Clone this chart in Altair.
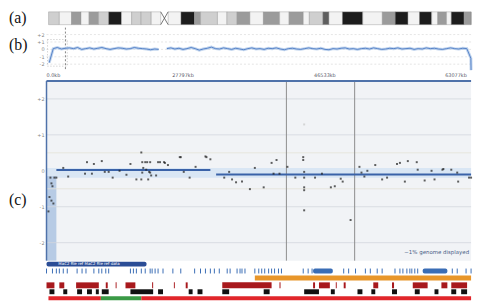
import altair as alt
import pandas as pd

W = 430
XDOM = [0, 62.83]

# ---------------- (a) ideogram ----------------
band_start = [0.3, 1.9, 3.7, 5.1, 6.3, 7.7, 9.2, 11.1, 12.6, 14.0, 15.5,
              18.0, 19.9, 21.9, 22.8, 25.3, 26.7, 28.2, 30.1, 32.1, 34.5, 35.9, 38.0,
              38.9, 40.9, 41.8, 43.8, 46.8, 49.7, 51.6, 53.5, 55.2, 57.0, 57.9, 59.2,
              59.9, 61.8, 63.3]
band_end = [1.9, 3.7, 5.1, 6.3, 7.7, 9.2, 11.1, 12.6, 14.0, 15.5, 16.9,
            19.9, 21.9, 22.8, 25.3, 26.7, 28.2, 30.1, 32.1, 34.5, 35.9, 38.0, 38.9,
            40.9, 41.8, 43.8, 46.8, 49.7, 51.6, 53.5, 55.2, 57.0, 57.9, 59.2, 59.9,
            61.8, 63.3, 64.0]
band_stain = ["g25", "gneg", "g50", "gneg", "g50", "g25", "g100", "gneg", "g25", "g25", "gneg",
              "gneg", "g100", "g50", "g25", "gneg", "g25", "g50", "gneg", "g50", "gneg", "g50", "gneg",
              "g25", "g75", "gneg", "g100", "gneg", "g50", "g100", "gneg", "g100", "gneg", "g50", "gneg",
              "g100", "g50", "gneg"]
cen_start = [16.9]
cen_end = [18.0]

# ---------------- (b) whole-chromosome trace ----------------
b_left_start, b_right_start, b_step = 0.4, 17.8, 0.6
b_left_vals = [-1.8, 0.1, 0.25, 0.05, 0.15, 0.2, 0.1, 0.25, 0.0, 0.1, 0.2, 0.05, 0.15, 0.25,
               0.1, 0.0, 0.1, 0.2, 0.15, 0.05, 0.1, 0.25, 0.15, 0.1, 0.05, -0.05, 0.05, 0.0]
b_right_vals = [0.1, 0.2, 0.05, 0.15, 0.0, 0.1, 0.25, 0.1, -0.1, 0.05, 0.15, 0.3, 0.1, 0.05,
                0.2, 0.1, 0.0, 0.15, 0.05, -0.05, 0.1, 0.2, 0.05, 0.1, 0.0, 0.15, 0.1, 0.2,
                0.05, -0.05, 0.1, 0.15, 0.05, 0.0, 0.1, 0.2, 0.1, 0.05, 0.15, 0.0, -0.05, 0.1,
                0.05, 0.15, 0.2, 0.05, 0.1, 0.0, 0.1, 0.15, 0.05, 0.2, 0.1, 0.0, 0.05, 0.15,
                0.1, 0.2, 0.05, 0.1, 0.15, 0.0, 0.1, 0.05, 0.2, 0.1, 0.15, 0.05, 0.0, 0.1,
                0.2, 0.1, 0.05, 0.15, 0.1, -1.2, -2.8]
b_grid_vals = [2, 1, 0, -1, -2]
b_grid_text = ["+2", "+1", "0", "-1", "-2"]
view_line = [2.8]
view_box = {"x0": [0.15], "x1": [3.07], "y0": [1.33], "y1": [-2.27]}
tick_pos = [0.0, 20.2, 41.2, 60.6]
tick_text = ["0.0kb", "27797kb", "46533kb", "63077kb"]
tick_align = ["left", "center", "center", "center"]

# ---------------- (c) zoomed log-ratio panel ----------------
c_grid_major = [2, 1, -1, -2]
c_grid_minor = [0.5, -0.5]
c_grid_text_v = [2, 1, 0, -1, -2]
c_grid_text = ["+2", "+1", "0", "-1", "-2"]
c_vlines = [35.5, 45.6]
seg_start = [1.46, 25.1]
seg_end = [24.25, 64.0]
seg_val = [0.02, -0.1]
band_lo, band_hi = [-0.19], [0.08]
shade_x0, shade_x1, shade_lo, shade_hi = [0.0], [1.46], [-2.5], [-0.15]

dot_x = [5.99, 7.01, 8.18, 2.48, 3.21, 5.70, 6.72, 8.62, 9.20, 9.79, 10.81, 11.83, 12.42,
         13.30, 14.03, 14.17, 14.61, 14.90, 15.34, 14.32, 14.76, 15.19, 15.34, 14.17, 15.49,
         16.22, 15.05, 16.80, 17.39, 17.97, 19.87, 20.31, 21.18, 22.06, 23.52, 24.25, 14.03,
         19.72, 23.67, 16.51, 17.53,
         0.58, 1.17, 0.73, 0.88, 0.44, 0.73, 1.02, 0.29, 1.46,
         27.03, 26.30, 27.46, 28.05, 28.93, 30.10, 32.14, 30.83, 33.31, 34.04, 33.60, 34.48,
         35.65, 36.82, 37.99, 37.99, 38.13, 38.13, 38.13, 38.13, 38.13, 39.74, 40.76, 42.08,
         42.66, 43.54, 43.83, 45.00, 46.31, 46.61, 47.48, 47.04, 48.65, 49.67, 50.40, 51.87,
         52.30, 53.47, 54.79, 53.03, 54.93, 55.96, 56.98, 57.42, 58.59, 58.73, 59.90, 60.78,
         60.92, 62.53, 63.70]
dot_y = [0.24, 0.19, 0.27, 0.08, -0.16, -0.08, -0.08, -0.03, -0.03, -0.19, 0.0, -0.11, 0.19,
         -0.24, -0.24, 0.24, 0.24, 0.24, 0.24, 0.08, 0.03, -0.03, -0.05, -0.05, -0.13,
         -0.13, -0.24, 0.24, 0.24, 0.16, 0.38, -0.03, -0.19, 0.11, 0.40, 0.32, 0.51,
         0.38, 0.38, 0.24, 0.22,
         -0.19, -0.19, -0.35, -0.43, -0.73, -0.83, -0.91, -1.13, -0.19,
         -0.03, -0.19, -0.24, -0.32, -0.30, -0.51, -0.46, 0.08, 0.22, 0.30, -0.08, -0.08,
         0.11, -0.19, 0.38, 0.30, -0.03, -0.19, -0.46, -0.54, -1.10, -0.19, -0.08, -0.46,
         -0.43, -0.22, -0.30, -1.37, 0.11, -0.05, 0.0, -0.16, 0.16, -0.24, -0.19, 0.19,
         0.22, 0.27, 0.24, -0.30, 0.03, -0.27, 0.0, -0.24, 0.03, 0.05, 0.03, -0.05,
         -0.30, -0.19, -0.19]
faint_x, faint_y = [38.13], [1.29]

# ---------------- tracks ----------------
blue_bar = {"s": [0.0], "e": [14.8], "t": ["MaC2 file ref MaC2 file ref data"]}
gene_ticks = [0.0, 0.88, 1.46, 1.90, 2.48, 3.07, 4.53, 5.26, 5.84, 7.01, 7.74, 8.18, 8.77,
              9.20, 12.42, 12.86, 13.30, 14.03, 14.61, 15.34, 15.63, 16.07, 16.51, 17.24,
              18.70, 19.87, 21.92, 22.79, 23.52, 24.25, 24.84, 25.57, 26.74, 27.17, 28.20,
              28.64, 28.93, 29.37, 30.83, 31.41, 31.85, 32.29, 32.87, 33.31, 33.75, 34.33,
              34.77, 37.99, 38.72, 39.30, 43.98, 44.71, 45.73, 47.19, 47.92, 48.94, 49.67,
              51.57, 52.30, 52.74, 53.33, 53.77, 54.06, 54.50, 54.93, 60.05, 60.78, 62.09,
              63.26]
gene_box_s = [39.45, 55.67]
gene_box_e = [42.37, 59.32]
orange_s, orange_e = [30.83], [64.0]
dred_s = [0.0, 1.90, 4.38, 8.77, 10.23, 11.69, 15.63, 18.85, 20.60, 26.01, 34.48, 39.45,
          40.32, 42.81, 43.98, 48.36, 51.13, 54.20, 58.44, 59.90, 62.97]
dred_e = [1.17, 2.63, 7.74, 9.06, 10.37, 13.15, 15.78, 18.99, 20.89, 33.31, 34.63, 39.74,
          41.93, 42.95, 44.27, 49.09, 51.43, 56.40, 59.32, 62.24, 63.99]
black_s = [0.44, 2.48, 4.53, 5.99, 7.30, 8.18, 12.42, 16.51, 21.04, 22.35, 26.01, 32.14,
           38.13, 42.08, 46.02, 48.07, 51.13, 54.50, 57.42, 59.90, 61.36, 63.26]
black_e = [1.17, 3.07, 5.26, 6.72, 7.74, 9.20, 15.78, 17.24, 21.62, 23.08, 27.03, 33.02,
           40.32, 42.66, 46.75, 48.65, 51.87, 55.23, 58.00, 60.63, 62.24, 63.99]
cnv_s = [0.29, 8.04, 14.03]
cnv_e = [8.04, 14.03, 64.0]
cnv_c = ["loss", "gain", "loss"]

SERIF = "Liberation Serif"
SANS = "DejaVu Sans"


def xs():
    return alt.Scale(domain=XDOM, nice=False, zero=False, clamp=True)


def label(txt, y):
    return alt.Chart(pd.DataFrame({"t": [txt]})).mark_text(
        align="left", baseline="middle", font=SERIF, fontSize=16, color="#111"
    ).encode(text="t:N", x=alt.value(-38), y=alt.value(y))


# ---------- panel A ----------
ideo = pd.DataFrame({"s": band_start, "e": band_end, "stain": band_stain})
a_rect = alt.Chart(ideo).mark_rect(stroke="#8f8f8f", strokeWidth=0.4).encode(
    x=alt.X("s:Q", scale=xs(), axis=None), x2="e:Q",
    y=alt.value(2), y2=alt.value(15),
    color=alt.Color("stain:N", legend=None, scale=alt.Scale(
        domain=["gneg", "g25", "g50", "g75", "g100"],
        range=["#f3f3f3", "#cfcfcf", "#9b9b9b", "#5e5e5e", "#1c1c1c"])))
cen = pd.DataFrame({"s": cen_start, "e": cen_end})
a_cen1 = alt.Chart(cen).mark_rule(color="#555", strokeWidth=0.8).encode(
    x=alt.X("s:Q", scale=xs(), axis=None), x2="e:Q", y=alt.value(2), y2=alt.value(15))
a_cen2 = alt.Chart(cen).mark_rule(color="#555", strokeWidth=0.8).encode(
    x=alt.X("s:Q", scale=xs(), axis=None), x2="e:Q", y=alt.value(15), y2=alt.value(2))
panel_a = alt.layer(a_rect, a_cen1, a_cen2, label("(a)", 8)).properties(width=W, height=17)

# ---------- panel B ----------
ysb = alt.Scale(domain=[-4.13, 3.07], nice=False, zero=False)
trace = pd.DataFrame({
    "pos": [round(b_left_start + b_step * i, 2) for i in range(len(b_left_vals))] +
           [round(b_right_start + b_step * i, 2) for i in range(len(b_right_vals))],
    "val": b_left_vals + b_right_vals,
    "arm": ["p"] * len(b_left_vals) + ["q"] * len(b_right_vals)})
bg = pd.DataFrame({"v": b_grid_vals, "t": b_grid_text})
b_grid = alt.Chart(bg).mark_rule(color="#d2d2d2", strokeDash=[2, 2], strokeWidth=0.6).encode(
    y=alt.Y("v:Q", scale=ysb, axis=None), x=alt.value(0), x2=alt.value(W))
b_glab = alt.Chart(bg).mark_text(align="right", baseline="middle", fontSize=5, color="#888", font=SANS).encode(
    y=alt.Y("v:Q", scale=ysb, axis=None), x=alt.value(-2), text="t:N")
b_wide = alt.Chart(trace).mark_line(color="#b3cbea", strokeWidth=3, opacity=0.8).encode(
    x=alt.X("pos:Q", scale=xs(), axis=None), y=alt.Y("val:Q", scale=ysb, axis=None), detail="arm:N")
b_line = alt.Chart(trace).mark_line(color="#3b6fbe", strokeWidth=0.8).encode(
    x=alt.X("pos:Q", scale=xs(), axis=None), y=alt.Y("val:Q", scale=ysb, axis=None), detail="arm:N")
b_vl = alt.Chart(pd.DataFrame({"x": view_line})).mark_rule(color="#666", strokeDash=[2, 2], strokeWidth=0.8).encode(
    x=alt.X("x:Q", scale=xs(), axis=None), y=alt.value(1), y2=alt.value(44))
b_box = alt.Chart(pd.DataFrame(view_box)).mark_rect(fill=None, stroke="#999", strokeDash=[1, 2], strokeWidth=0.6).encode(
    x=alt.X("x0:Q", scale=xs(), axis=None), x2="x1:Q",
    y=alt.Y("y0:Q", scale=ysb, axis=None), y2="y1:Q")
ticks = pd.DataFrame({"p": tick_pos, "t": tick_text, "a": tick_align})
b_ticks_l = alt.Chart(ticks[ticks.a == "left"]).mark_text(align="left", baseline="middle", fontSize=5, color="#556", font=SANS).encode(
    x=alt.X("p:Q", scale=xs(), axis=None), y=alt.value(49), text="t:N")
b_ticks_c = alt.Chart(ticks[ticks.a == "center"]).mark_text(align="center", baseline="middle", fontSize=5, color="#556", font=SANS).encode(
    x=alt.X("p:Q", scale=xs(), axis=None), y=alt.value(49), text="t:N")
panel_b = alt.layer(b_grid, b_glab, b_box, b_vl, b_wide, b_line, b_ticks_l, b_ticks_c,
                    label("(b)", 19)).properties(width=W, height=54)

# ---------- panel C ----------
HC = 182
ysc = alt.Scale(domain=[-2.5, 2.5], nice=False, zero=False)
c_band = alt.Chart(pd.DataFrame({"lo": band_lo, "hi": band_hi})).mark_rect(color="#d9e6f4").encode(
    y=alt.Y("lo:Q", scale=ysc, axis=None), y2="hi:Q", x=alt.value(0), x2=alt.value(W))
c_shade = alt.Chart(pd.DataFrame({"x0": shade_x0, "x1": shade_x1, "lo": shade_lo, "hi": shade_hi})).mark_rect(
    color="#b7cbe5").encode(
    x=alt.X("x0:Q", scale=xs(), axis=None), x2="x1:Q",
    y=alt.Y("lo:Q", scale=ysc, axis=None), y2="hi:Q")
c_gmaj = alt.Chart(pd.DataFrame({"v": c_grid_major})).mark_rule(color="#d3d7dd", strokeWidth=0.8).encode(
    y=alt.Y("v:Q", scale=ysc, axis=None), x=alt.value(0), x2=alt.value(W))
c_gmin = alt.Chart(pd.DataFrame({"v": c_grid_minor})).mark_rule(color="#e3e2d8", strokeWidth=0.8).encode(
    y=alt.Y("v:Q", scale=ysc, axis=None), x=alt.value(0), x2=alt.value(W))
c_glab = alt.Chart(pd.DataFrame({"v": c_grid_text_v, "t": c_grid_text})).mark_text(
    align="right", baseline="middle", fontSize=5, color="#888", font=SANS).encode(
    y=alt.Y("v:Q", scale=ysc, axis=None), x=alt.value(-2), text="t:N")
c_vl = alt.Chart(pd.DataFrame({"x": c_vlines})).mark_rule(color="#8c8c8c", strokeWidth=1).encode(
    x=alt.X("x:Q", scale=xs(), axis=None), y=alt.value(0), y2=alt.value(HC))
c_top = alt.Chart(pd.DataFrame({"k": [0]})).mark_rule(color="#4f72aa", strokeWidth=2).encode(
    x=alt.value(0), x2=alt.value(W), y=alt.value(0))
c_left = alt.Chart(pd.DataFrame({"k": [0]})).mark_rule(color="#4f72aa", strokeWidth=1.5).encode(
    x=alt.value(0), y=alt.value(0), y2=alt.value(HC))
c_faint = alt.Chart(pd.DataFrame({"x": faint_x, "y": faint_y})).mark_square(size=4, color="#c8c8c8").encode(
    x=alt.X("x:Q", scale=xs(), axis=None), y=alt.Y("y:Q", scale=ysc, axis=None))
c_seg = alt.Chart(pd.DataFrame({"s": seg_start, "e": seg_end, "v": seg_val})).mark_rule(
    color="#3a62a8", strokeWidth=2).encode(
    x=alt.X("s:Q", scale=xs(), axis=None), x2="e:Q", y=alt.Y("v:Q", scale=ysc, axis=None))
c_dots = alt.Chart(pd.DataFrame({"x": dot_x, "y": dot_y})).mark_square(size=4, color="#1d1d1d").encode(
    x=alt.X("x:Q", scale=xs(), axis=None), y=alt.Y("y:Q", scale=ysc, axis=None))
c_note = alt.Chart(pd.DataFrame({"t": ["~1% genome displayed"]})).mark_text(
    align="right", baseline="middle", fontSize=5.5, color="#4a5f86", font=SANS).encode(
    text="t:N", x=alt.value(W - 2), y=alt.value(HC - 9))
panel_c = alt.layer(c_band, c_shade, c_gmaj, c_gmin, c_glab, c_vl, c_top, c_left, c_faint,
                    c_seg, c_dots, c_note, label("(c)", 121)).properties(
    width=W, height=HC, view=alt.ViewBackground(fill="#f1f3f6"))

# ---------- panel D (tracks) ----------
d_blue = alt.Chart(pd.DataFrame(blue_bar)).mark_rect(color="#2b4d96", cornerRadius=2).encode(
    x=alt.X("s:Q", scale=xs(), axis=None), x2="e:Q", y=alt.value(0), y2=alt.value(5))
d_blue_t = alt.Chart(pd.DataFrame(blue_bar)).mark_text(
    fontSize=4, color="white", font=SANS, baseline="middle", align="left", dx=12).encode(
    x=alt.X("s:Q", scale=xs(), axis=None), y=alt.value(2.5), text="t:N")
d_gene = alt.Chart(pd.DataFrame({"x": gene_ticks})).mark_rule(color="#3a6db5", strokeWidth=1).encode(
    x=alt.X("x:Q", scale=xs(), axis=None), y=alt.value(7), y2=alt.value(12))
d_gbox = alt.Chart(pd.DataFrame({"s": gene_box_s, "e": gene_box_e})).mark_rect(color="#3a6db5", cornerRadius=2).encode(
    x=alt.X("s:Q", scale=xs(), axis=None), x2="e:Q", y=alt.value(7), y2=alt.value(12))
d_orange = alt.Chart(pd.DataFrame({"s": orange_s, "e": orange_e})).mark_rect(color="#e8962a").encode(
    x=alt.X("s:Q", scale=xs(), axis=None), x2="e:Q", y=alt.value(14), y2=alt.value(19))
d_dred = alt.Chart(pd.DataFrame({"s": dred_s, "e": dred_e})).mark_rect(color="#a8191d").encode(
    x=alt.X("s:Q", scale=xs(), axis=None), x2="e:Q", y=alt.value(21), y2=alt.value(27))
d_black = alt.Chart(pd.DataFrame({"s": black_s, "e": black_e})).mark_rect(color="#111111").encode(
    x=alt.X("s:Q", scale=xs(), axis=None), x2="e:Q", y=alt.value(28), y2=alt.value(33))
d_cnv = alt.Chart(pd.DataFrame({"s": cnv_s, "e": cnv_e, "c": cnv_c})).mark_rect().encode(
    x=alt.X("s:Q", scale=xs(), axis=None), x2="e:Q", y=alt.value(35), y2=alt.value(39),
    color=alt.Color("c:N", legend=None, scale=alt.Scale(domain=["loss", "gain"], range=["#e1262b", "#3a9a46"])))
panel_d = alt.layer(d_blue, d_blue_t, d_gene, d_gbox, d_orange, d_dred, d_black, d_cnv).properties(
    width=W, height=39)

chart = alt.vconcat(panel_a, panel_b, panel_c, panel_d, spacing=0).resolve_scale(
    color="independent"
).properties(
    padding={"left": 1, "top": 0, "right": 0, "bottom": 0}
).configure_view(stroke=None).configure_concat(spacing=0)

chart.save("out.html", embed_options={"renderer": "svg", "actions": False})
